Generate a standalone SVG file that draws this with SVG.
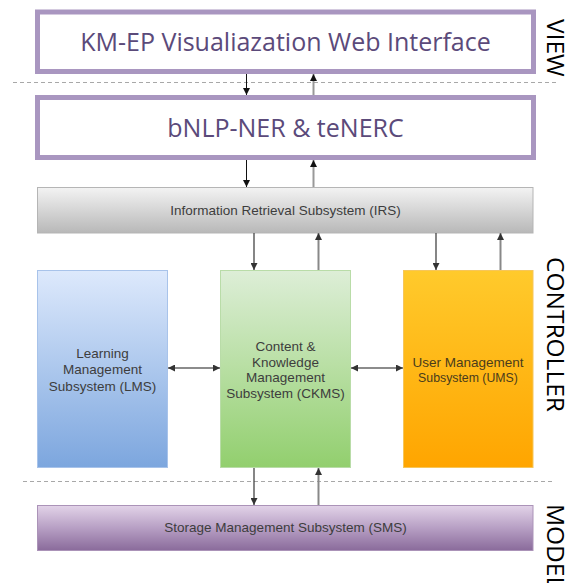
<svg xmlns="http://www.w3.org/2000/svg" width="570" height="583" viewBox="0 0 570 583">
<defs>
<linearGradient id="gIRS" x1="0" y1="0" x2="0" y2="1"><stop offset="0" stop-color="#f3f3f3"/><stop offset="1" stop-color="#b8b8b8"/></linearGradient>
<linearGradient id="gLMS" x1="0" y1="0" x2="0" y2="1"><stop offset="0" stop-color="#dde9fc"/><stop offset="1" stop-color="#7ca6de"/></linearGradient>
<linearGradient id="gCKMS" x1="0" y1="0" x2="0" y2="1"><stop offset="0" stop-color="#ddeed7"/><stop offset="1" stop-color="#92cf6e"/></linearGradient>
<linearGradient id="gUMS" x1="0" y1="0" x2="0" y2="1"><stop offset="0" stop-color="#ffca2c"/><stop offset="1" stop-color="#ffa500"/></linearGradient>
<linearGradient id="gSMS" x1="0" y1="0" x2="0" y2="1"><stop offset="0" stop-color="#e2d3e8"/><stop offset="0.5" stop-color="#b79fc4"/><stop offset="1" stop-color="#8a6b9b"/></linearGradient>
<marker id="ah" viewBox="0 0 10 10" refX="10" refY="5" markerWidth="7" markerHeight="7" markerUnits="userSpaceOnUse" orient="auto-start-reverse"><path d="M0,0 L10,5 L0,10 z" fill="#111"/></marker>
<marker id="ah2" viewBox="0 0 10 10" refX="10" refY="5" markerWidth="7" markerHeight="7" markerUnits="userSpaceOnUse" orient="auto-start-reverse"><path d="M0,0 L10,5 L0,10 z" fill="#333"/></marker>
</defs>
<style>
.big{fill:#fff;stroke:#a996c0;stroke-width:5}
.bigt{font-family:"Open Sans","Noto Sans",sans-serif;font-size:25px;fill:#5b4a7a;text-anchor:middle}
.side{font-family:"Open Sans","Noto Sans",sans-serif;font-size:24.5px;fill:#000}
.t{font-family:"Liberation Sans",Arial,sans-serif;font-size:13.5px;fill:#3d3d3d;text-anchor:middle}
.dash{stroke:#a8a8a8;stroke-width:1;stroke-dasharray:4 3;fill:none}
.dn{stroke:#111;stroke-width:1;fill:none;marker-end:url(#ah)}
.up{stroke:#999;stroke-width:2;fill:none;marker-end:url(#ah)}
.dn2{stroke:#444;stroke-width:1.3;fill:none;marker-end:url(#ah2)}
.up2{stroke:#888;stroke-width:2;fill:none;marker-end:url(#ah2)}
.bi{stroke:#666;stroke-width:1.6;fill:none;marker-start:url(#ah2);marker-end:url(#ah2)}
</style>
<g id="separators">
<line class="dash" x1="13" y1="82.5" x2="557" y2="82.5"/>
<line class="dash" x1="23" y1="481.5" x2="552" y2="481.5"/>
</g>
<g id="layer-labels">
<text class="side" transform="translate(547,19) rotate(90)">VIEW</text>
<text class="side" transform="translate(547,257) rotate(90)">CONTROLLER</text>
<text class="side" transform="translate(547,504) rotate(90)">MODEL</text>
</g>
<g id="view-ui">
<rect class="big" x="37.5" y="12" width="496" height="59.5"/>
<text class="bigt" x="285.5" y="50.5">KM-EP Visualiazation Web Interface</text>
</g>
<g id="bnlp">
<rect class="big" x="37.5" y="97.5" width="496" height="60"/>
<text class="bigt" x="285.5" y="136.5">bNLP-NER &amp; teNERC</text>
</g>
<g id="irs">
<rect x="37.5" y="187.5" width="495.5" height="45.5" fill="url(#gIRS)" stroke="#b5b5b5"/>
<text class="t" x="285.5" y="215">Information Retrieval Subsystem (IRS)</text>
</g>
<g id="lms">
<rect x="37.5" y="270.5" width="130" height="197" fill="url(#gLMS)" stroke="#a8c3ea"/>
<text class="t" x="102.5" y="358">Learning</text>
<text class="t" x="102.5" y="374">Management</text>
<text class="t" x="102.5" y="391">Subsystem (LMS)</text>
</g>
<g id="ckms">
<rect x="220.5" y="270.5" width="130" height="197" fill="url(#gCKMS)" stroke="#b9dca8"/>
<text class="t" x="285.5" y="351">Content &amp;</text>
<text class="t" x="285.5" y="367">Knowledge</text>
<text class="t" x="285.5" y="382">Management</text>
<text class="t" x="285.5" y="398">Subsystem (CKMS)</text>
</g>
<g id="ums">
<rect x="403.5" y="270.5" width="129.5" height="197" fill="url(#gUMS)" stroke="#f6c65a"/>
<text class="t" x="468" y="367" style="fill:#4a3c1c">User Management</text>
<text class="t" x="468" y="382" style="fill:#4a3c1c;font-size:12.3px">Subsystem (UMS)</text>
</g>
<g id="sms">
<rect x="37.5" y="505.5" width="495.5" height="45" fill="url(#gSMS)" stroke="#ab93b8"/>
<text class="t" x="285.5" y="532">Storage Management Subsystem (SMS)</text>
</g>
<g id="connectors">
<line class="dn" x1="246.5" y1="74" x2="246.5" y2="95"/>
<line class="up" x1="313.5" y1="95" x2="313.5" y2="74"/>
<line class="dn" x1="246.5" y1="160" x2="246.5" y2="187"/>
<line class="up" x1="313.5" y1="187" x2="313.5" y2="160"/>
<line class="dn2" x1="254" y1="233" x2="254" y2="270"/>
<line class="up2" x1="318.5" y1="270" x2="318.5" y2="233"/>
<line class="dn2" x1="436" y1="233" x2="436" y2="270"/>
<line class="up2" x1="500.5" y1="270" x2="500.5" y2="233"/>
<line class="bi" x1="168" y1="368" x2="220" y2="368"/>
<line class="bi" x1="351" y1="368" x2="403" y2="368"/>
<line class="dn2" x1="254" y1="468" x2="254" y2="505"/>
<line class="up2" x1="318.5" y1="505" x2="318.5" y2="468"/>
</g>
</svg>
